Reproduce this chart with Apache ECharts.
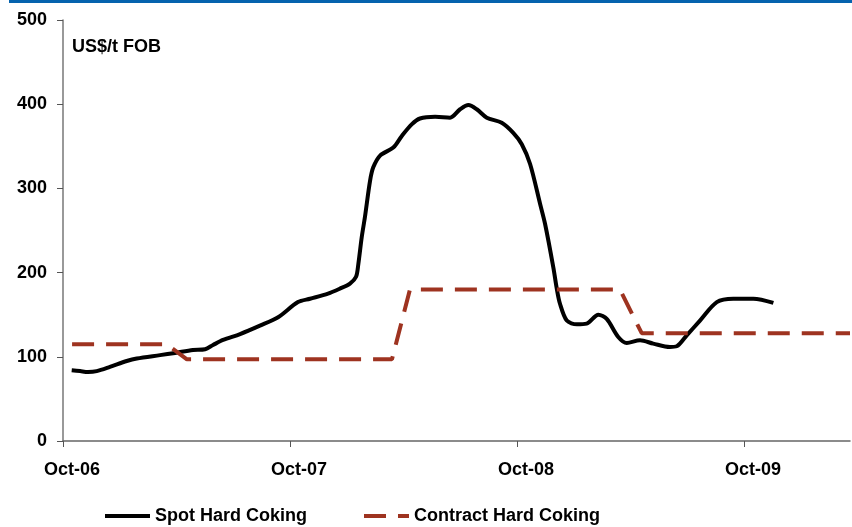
<!DOCTYPE html>
<html>
<head>
<meta charset="utf-8">
<script src="https://cdn.jsdelivr.net/npm/echarts@6/dist/echarts.min.js"></script>
<style>
html,body{margin:0;padding:0;background:#fff;}
#c{width:852px;height:527px;}
</style>
</head>
<body>
<div id="c"></div>
<script>
// x values are months since 1 Oct 2006
const tickMonths = [0, 12, 24, 36];
const tickLabels = ['Oct-06', 'Oct-07', 'Oct-08', 'Oct-09'];
const yTicks = [0, 100, 200, 300, 400, 500];

const spotMonths = [0.46, 0.90, 1.32, 1.78, 2.48, 3.37, 3.90, 5.13, 5.92, 6.87, 7.51, 7.93, 8.46, 9.36, 10.41, 11.37,
  12.42, 13.06, 14.01, 14.64, 15.17, 15.49, 15.61, 15.79, 15.96, 16.23, 16.40, 16.76, 17.46, 17.90, 18.43, 18.87,
  19.67, 20.46, 20.99, 21.43, 21.87, 22.40, 23.19, 23.80, 24.25, 24.69, 25.22, 25.48, 25.92, 26.10, 26.27, 26.63,
  27.16, 27.68, 28.30, 28.74, 29.35, 29.80, 30.50, 31.20, 32.08, 32.44, 32.97, 33.67, 34.56, 35.43, 36.49, 37.55];
const spotValues = [84, 83, 82, 83, 88, 95, 98, 102, 104.6, 108, 109, 114, 120, 127, 137, 147,
  165, 169, 175, 181, 187, 195, 210, 242, 266, 309, 325, 339, 348.5, 362, 376, 383,
  385, 384, 394, 399, 394, 384, 378, 366, 352.5, 329, 281.5, 258, 206, 181, 163, 143,
  138.6, 139.4, 150, 145, 123.5, 116.4, 119.6, 115.7, 111.7, 112.5, 125.5, 143, 165, 169, 169, 164];

const contractMonths = [0.48, 5.47, 6.55, 17.39, 18.34, 29.44, 30.59, 41.6];
const contractValues = [115, 115, 97, 97, 180, 180, 128, 128];

const xMax = 41.6;
const font = "'Liberation Sans', Arial, sans-serif";
const spotColor = '#000000';
const contractColor = '#9E3320';

const chart = echarts.init(document.getElementById('c'), null, {renderer: 'canvas'});
chart.setOption({
  animation: false,
  backgroundColor: '#ffffff',
  grid: {left: 63, right: 2, top: 20, bottom: 86, containLabel: false},
  graphic: [
    {type: 'rect', left: 9, top: 0, shape: {width: 843, height: 3}, style: {fill: '#0563AE'}},
    {type: 'text', left: 72, top: 38, style: {text: 'US$/t FOB', font: 'bold 18px ' + font, fill: '#000'}}
  ],
  legend: {
    left: 105, top: 506, padding: 0, itemWidth: 45, itemHeight: 4, itemGap: 57,
    textStyle: {fontFamily: font, fontWeight: 'bold', fontSize: 18, lineHeight: 20, color: '#000'},
    data: [
      {name: 'Spot Hard Coking', icon: 'rect', itemStyle: {color: spotColor}},
      {name: 'Contract Hard Coking', icon: 'path://M0,0h22v4h-22z M34,0h11v4h-11z', itemStyle: {color: contractColor}}
    ]
  },
  xAxis: {
    type: 'value', min: 0, max: xMax, interval: 12,
    splitLine: {show: false},
    axisLine: {lineStyle: {color: '#666', width: 1.5}},
    axisTick: {show: true, length: 6, customValues: tickMonths, lineStyle: {color: '#555'}},
    axisLabel: {
      customValues: tickMonths, margin: 20, padding: [0, 0, 0, 18],
      fontFamily: font, fontWeight: 'bold', fontSize: 18, color: '#000',
      formatter: v => { const i = tickMonths.indexOf(Math.round(v)); return i >= 0 ? tickLabels[i] : ''; }
    }
  },
  yAxis: {
    type: 'value', min: 0, max: 500, interval: 100,
    splitLine: {show: false},
    axisLine: {show: true, lineStyle: {color: '#777', width: 1.5}},
    axisTick: {show: true, length: 6, lineStyle: {color: '#555'}},
    axisLabel: {margin: 16, fontFamily: font, fontWeight: 'bold', fontSize: 18, color: '#000',
      formatter: v => yTicks.includes(v) ? String(v) : ''}
  },
  series: [
    {
      name: 'Spot Hard Coking', type: 'line', symbol: 'none', smooth: 0.3,
      data: spotMonths.map((m, i) => [m, spotValues[i]]),
      lineStyle: {color: spotColor, width: 4},
      itemStyle: {color: spotColor}
    },
    {
      name: 'Contract Hard Coking', type: 'line', symbol: 'none',
      data: contractMonths.map((m, i) => [m, contractValues[i]]),
      lineStyle: {color: contractColor, width: 4, type: [22, 12], cap: 'butt'},
      itemStyle: {color: contractColor}
    }
  ]
});
</script>
</body>
</html>
